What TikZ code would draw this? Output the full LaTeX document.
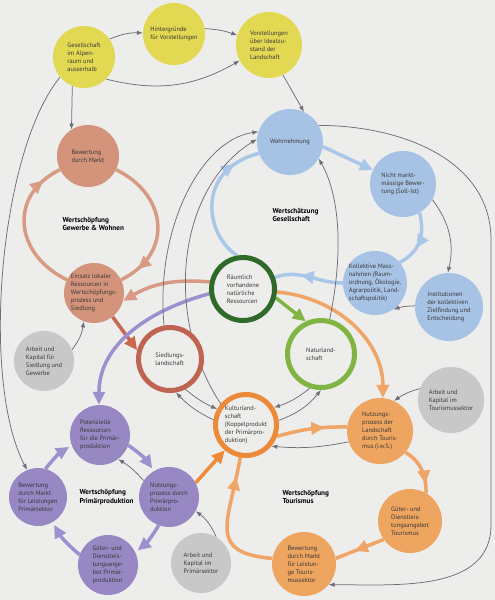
\documentclass[tikz,border=0pt]{standalone}
\usepackage{fontspec}
\setmainfont{PT Sans}
\usetikzlibrary{arrows.meta,decorations.markings}
\definecolor{bgc}{HTML}{EDEDEB}
\definecolor{yel}{HTML}{E2D852}
\definecolor{sal}{HTML}{D4937B}
\definecolor{salline}{HTML}{D99A84}
\definecolor{sied}{HTML}{BF6450}
\definecolor{redarr}{HTML}{C8664E}
\definecolor{blu}{HTML}{A6C3E5}
\definecolor{bluline}{HTML}{A9C7E8}
\definecolor{gry}{HTML}{C8C8C8}
\definecolor{pur}{HTML}{9787C3}
\definecolor{purline}{HTML}{9D90CF}
\definecolor{ora}{HTML}{EEA560}
\definecolor{oraline}{HTML}{F0A466}
\definecolor{kultc}{HTML}{EC8A3A}
\definecolor{dgreen}{HTML}{2F6A2B}
\definecolor{lgreen}{HTML}{80B543}
\definecolor{thinc}{HTML}{6E6E78}
\definecolor{txt}{HTML}{383838}
\pgfdeclarelayer{bgl}
\pgfdeclarelayer{back}
\pgfsetlayers{bgl,back,main}
\begin{document}
\begin{tikzpicture}[x=1pt,y=-1pt,
  circ/.style={circle, inner sep=-20pt, font=\fontsize{6.4}{8}\selectfont, align=left, text=txt},
  disc/.style 2 args={circ, fill=#1, minimum size=#2},
  ring/.style 2 args={circ, draw=#1, line width=5pt, fill=bgc, minimum size=#2},
  lab/.style={font=\fontsize{7.2}{8.5}\selectfont\bfseries, align=left, anchor=west, text=black},
  thk/.style={draw=#1, color=#1, line width=3.5pt},
  endarr/.style={-{Triangle[length=13pt,width=12pt]}},
  midarr/.style={postaction={decorate}, decoration={markings, mark=at position #1 with {\arrow{Triangle[length=13pt,width=12pt]}}}},
  thn/.style={draw=thinc, line width=0.75pt, -{Latex[length=6pt,width=4.5pt]}},
]
\useasboundingbox (0,0) rectangle (495,600);
\begin{pgfonlayer}{bgl}
\fill[bgc] (0,0) rectangle (495,600);
\end{pgfonlayer}

% nodes
\node[disc={yel}{62pt}] (y1) at (84,57) {Gesellschaft\\im Alpen-\\raum und\\ausserhalb};
\node[disc={yel}{62pt}] (y2) at (174,34) {Hintergründe\\für Vorstellungen};
\node[disc={yel}{66pt}] (y3) at (269,45) {Vorstellungen\\über Idealzu-\\stand der\\Landschaft};
\node[disc={sal}{62pt}] (r1) at (88,156) {Bewertung\\durch Markt};
\node[disc={sal}{60pt}] (r2) at (94,293) {Einsatz lokaler\\Ressourcen in\\Wertschöpfungs-\\prozess und\\Siedlung};
\node[disc={gry}{60pt}] (g1) at (44,361) {Arbeit und\\Kapital für\\Siedlung und\\Gewerbe};
\node[disc={blu}{66pt}] (b1) at (290,142) {Wahrnehmung};
\node[disc={blu}{66pt}] (b2) at (403,184) {Nicht markt-\\mässige Bewer-\\tung (Soll-Ist)};
\node[disc={blu}{64pt}] (b3) at (375,283) {Kollektive Mass-\\nahmen (Raum-\\ordnung, Ökologie,\\Agrarpolitik, Land-\\schaftspolitik)};
\node[disc={blu}{68pt}] (b4) at (449,307) {Institutionen\\der kollektiven\\Zielfindung und\\Entscheidung};
\node[ring={dgreen}{63pt}] (gr1) at (243,289) {Räumlich\\vorhandene\\natürliche\\Ressourcen};
\node[ring={lgreen}{67pt}] (gr2) at (321,354) {Naturland-\\schaft};
\node[ring={sied}{63pt}] (sied) at (170,359) {Siedlungs-\\landschaft};
\node[ring={kultc}{61pt}] (kult) at (246,425) {Kulturland-\\schaft\\(Koppelprodukt\\der Primärpro-\\duktion)};
\node[disc={gry}{66pt}] (g2) at (451,400) {Arbeit und\\Kapital im\\Tourismussektor};
\node[disc={ora}{66pt}] (o1) at (380,431) {Nutzungs-\\prozess der\\Landschaft\\durch Touris-\\mus (i.w.S.)};
\node[disc={ora}{64pt}] (o2) at (410,521) {Güter- und\\Dienstleis-\\tungsangebot\\Tourismus};
\node[disc={ora}{64pt}] (o3) at (304,564) {Bewertung\\durch Markt\\für Leistun-\\ge Touris-\\mussektor};
\node[disc={pur}{60pt}] (p1) at (100,435) {Potenzielle\\Ressourcen\\für die Primär-\\produktion};
\node[disc={pur}{60pt}] (p2) at (169,497) {Nutzungs-\\prozess durch\\Primärpro-\\duktion};
\node[disc={pur}{60pt}] (p3) at (108,565) {Güter- und\\Dienstleis-\\tungsange-\\bot Primär-\\produktion};
\node[disc={pur}{58pt}] (p4) at (38,497) {Bewertung\\durch Markt\\für Leistungen\\Primärsektor};
\node[disc={gry}{60pt}] (g3) at (201,563) {Arbeit und\\Kapital im\\Primärsektor};

\node[lab] (lg) at (59,224) {Wertschöpfung\\Gewerbe \& Wohnen};
\node[lab] (lb) at (269,215) {Wertschätzung\\Gesellschaft};
\node[lab] (lp) at (76,497) {Wertschöpfung\\Primärproduktion};
\node[lab] (lt) at (279,497) {Wertschöpfung\\Tourismus};

\begin{pgfonlayer}{back}
% salmon ring
\draw[thk=salline, midarr=0.86] (r1) to[out=-26, in=26, looseness=1.35] (r2);
\draw[thk=salline, midarr=0.86] (r2) to[out=154, in=206, looseness=1.35] (r1);
% blue ring
\draw[thk=bluline, endarr] (b1.-8) -- (b2.155);
\draw[thk=bluline, midarr=0.62] (b2.-60) .. controls (425,235) and (420,252) .. (b3.40);
\draw[thk=bluline, midarr=0.62] (b3.180) to[out=180, in=20] (gr1.20);
\draw[thk=bluline, midarr=0.8] (gr1.100) .. controls (205,235) and (195,170) .. (b1.200);
% thick from resources
\draw[thk=lgreen, endarr] (gr1.-15) -- (gr2.115);
\draw[thk=redarr, endarr] (r2.-52) -- (sied.165);
\draw[thk=kultc, endarr] (p2.28) -- (kult.230);
\draw[thk=salline, endarr] (gr1.168) to[out=175, in=30] (r2.-15);
\draw[thk=purline, endarr] (gr1.188) to[out=195, in=90] (p1.92);
\draw[thk=oraline, endarr] (gr1.-5) to[out=-5, in=90] (o1.85);
% orange ring
\draw[thk=oraline, midarr=0.68] (kult.-20) to[bend left=8] (o1.173);
\draw[thk=oraline, midarr=0.8] (o1.-40) to[out=-30, in=90] (o2.60);
\draw[thk=oraline, midarr=0.6] (o2.-145) -- (o3.10);
\draw[thk=oraline, midarr=0.85] (o3.170) to[out=175, in=-100, looseness=1.6] (kult.-100);
% purple ring
\draw[thk=purline, endarr, shorten >=3pt] (p1.-20) to[bend left=10] (p2.120);
\draw[thk=purline, endarr, shorten >=3pt] (p2.-110) to[bend left=10] (p3.25);
\draw[thk=purline, endarr, shorten >=3pt] (p3.160) to[bend left=10] (p4.-60);
\draw[thk=purline, endarr, shorten >=3pt] (p4.75) to[bend left=10] (p1.200);
% thin connectors
\draw[thn] (y1.35) to[bend left=12] (y2.178);
\draw[thn] (y2.10) to[bend left=8] (y3.163);
\draw[thn] (y1.-45) to[bend right=22] (y3.208);
\draw[thn] (y3.-65) -- (b1.65);
\draw[thn] (y1.-112) -- (r1.122);
\draw[thn] (y1.-140) .. controls (0,150) and (-20,380) .. (p4.112);
\draw[thn] (b2.-28) to[bend left=25] (b4.92);
\draw[thn] (b4.178) to[bend right=8] (b3.-55);
\coordinate (rt) at (491,240);
\coordinate (rb) at (491,525);
\draw[thn] (b1.30) to[out=0, in=90] (rt) -- (rb) to[out=-90, in=0] (o3.-40);
\draw[thn] (g1.22) to[bend right=15] (r2.-110);
\draw[thn] (g2.160) to[bend right=10] (o1.65);
\draw[thn] (g3.60) to[bend right=15] (p2.-28);
\draw[thn] (p2.147) to[bend right=8] (p1.-53);
\draw[thn] (o1.199) to[bend left=8] (kult.-40);
\draw[thn] (gr2.-108) to[bend left=10] (kult.32);
\draw[thn] (kult.8) to[bend right=15] (gr2.-90);
\draw[thn] (sied.-63) to[bend right=8] (kult.151);
\draw[thn] (kult.171) to[bend left=10] (sied.-80);
\draw[thn] (sied.100) .. controls (155,230) and (200,140) .. (b1.162);
\draw[thn] (kult.140) .. controls (165,320) and (175,190) .. (b1.175);
\draw[thn] (gr2.76) .. controls (342,260) and (342,200) .. (b1.-30);
\end{pgfonlayer}
\end{tikzpicture}
\end{document}
